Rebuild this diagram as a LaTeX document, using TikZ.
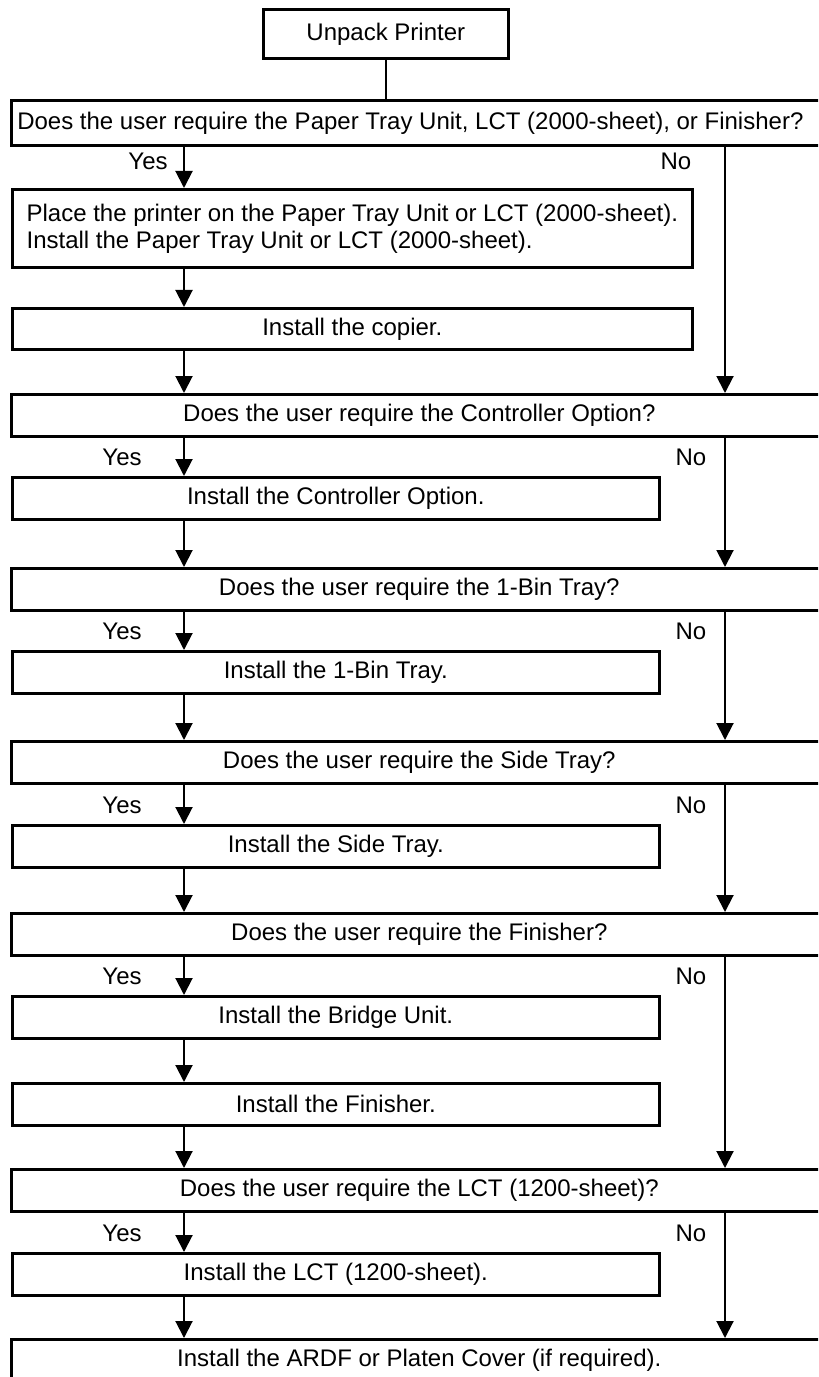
\documentclass[tikz,border=0pt]{standalone}
\usepackage{fontspec}
\setmainfont{Liberation Sans}
\usetikzlibrary{arrows.meta}
\begin{document}
\begin{tikzpicture}[x=0.5bp,y=-0.5bp,
  box/.style={draw, line width=1.3bp, inner sep=0pt, anchor=north west, font=\fontsize{12bp}{13.5bp}\selectfont},
  qbox/.style={box, minimum width=408bp, minimum height=21bp},
  sbox/.style={box, minimum width=323.5bp, minimum height=21bp},
  wbox/.style={box, minimum width=340bp, minimum height=20.5bp},
  lbl/.style={inner sep=0pt, font=\fontsize{12bp}{13.5bp}\selectfont},
  arr/.style={line width=1bp, -{Triangle[width=8.5bp,length=8.5bp]}},
  ln/.style={line width=1bp}]
\useasboundingbox (0,0) rectangle (818,1377);
\clip (0,0) rectangle (818,1377);
\coordinate (yc) at (184,0);
\coordinate (nc) at (725,0);
% boxes
\node[box, minimum width=122.5bp, minimum height=24.5bp] (unpack) at (262,8) {Unpack Printer};
\node[qbox, minimum height=22.5bp, text width=402bp, inner xsep=3bp, align=flush left] (q1) at (10,99) {Does the user require the Paper Tray Unit, LCT (2000-sheet), or Finisher?};
\node[wbox, minimum height=39bp, align=left] (p) at (11,188) {Place the printer on the Paper Tray Unit or LCT (2000-sheet).\\Install the Paper Tray Unit or LCT (2000-sheet).};
\node[wbox] (copier) at (11,307) {Install the copier.};
\node[qbox] (q2) at (10,393) {Does the user require the Controller Option?};
\node[sbox] (ctrl) at (11,476) {Install the Controller Option.};
\node[qbox] (q3) at (10,567) {Does the user require the 1-Bin Tray?};
\node[sbox] (bin) at (11,650) {Install the 1-Bin Tray.};
\node[qbox] (q4) at (10,740) {Does the user require the Side Tray?};
\node[sbox] (side) at (11,824) {Install the Side Tray.};
\node[qbox] (q5) at (10,912) {Does the user require the Finisher?};
\node[sbox] (bridge) at (11,995) {Install the Bridge Unit.};
\node[sbox] (fin) at (11,1082) {Install the Finisher.};
\node[qbox] (q6) at (10,1168) {Does the user require the LCT (1200-sheet)?};
\node[sbox] (lct) at (11,1252) {Install the LCT (1200-sheet).};
\node[qbox] (ardf) at (10,1338) {Install the ARDF or Platen Cover (if required).};
% labels
\node[lbl, anchor=east] (y1) at (168,161) {Yes};
\node[lbl] (n1) at (676,161) {No};
\node[lbl, anchor=east] (y2) at (142,457) {Yes};
\node[lbl] (n2) at (691,457) {No};
\node[lbl, anchor=east] (y3) at (142,631) {Yes};
\node[lbl] (n3) at (691,631) {No};
\node[lbl, anchor=east] (y4) at (142,805) {Yes};
\node[lbl] (n4) at (691,805) {No};
\node[lbl, anchor=east] (y5) at (142,976) {Yes};
\node[lbl] (n5) at (691,976) {No};
\node[lbl, anchor=east] (y6) at (142,1233) {Yes};
\node[lbl] (n6) at (691,1233) {No};
% connectors
\draw[ln] (unpack.south) -- (unpack.south |- q1.north);
\draw[arr] (q1.south -| yc) -- (p.north -| yc);
\draw[arr] (q1.south -| nc) -- (q2.north -| nc);
\draw[arr] (p.south -| yc) -- (copier.north -| yc);
\draw[arr] (copier.south -| yc) -- (q2.north -| yc);
\draw[arr] (q2.south -| yc) -- (ctrl.north -| yc);
\draw[arr] (q2.south -| nc) -- (q3.north -| nc);
\draw[arr] (ctrl.south -| yc) -- (q3.north -| yc);
\draw[arr] (q3.south -| yc) -- (bin.north -| yc);
\draw[arr] (q3.south -| nc) -- (q4.north -| nc);
\draw[arr] (bin.south -| yc) -- (q4.north -| yc);
\draw[arr] (q4.south -| yc) -- (side.north -| yc);
\draw[arr] (q4.south -| nc) -- (q5.north -| nc);
\draw[arr] (side.south -| yc) -- (q5.north -| yc);
\draw[arr] (q5.south -| yc) -- (bridge.north -| yc);
\draw[arr] (q5.south -| nc) -- (q6.north -| nc);
\draw[arr] (bridge.south -| yc) -- (fin.north -| yc);
\draw[arr] (fin.south -| yc) -- (q6.north -| yc);
\draw[arr] (q6.south -| yc) -- (lct.north -| yc);
\draw[arr] (q6.south -| nc) -- (ardf.north -| nc);
\draw[arr] (lct.south -| yc) -- (ardf.north -| yc);
\end{tikzpicture}
\end{document}
